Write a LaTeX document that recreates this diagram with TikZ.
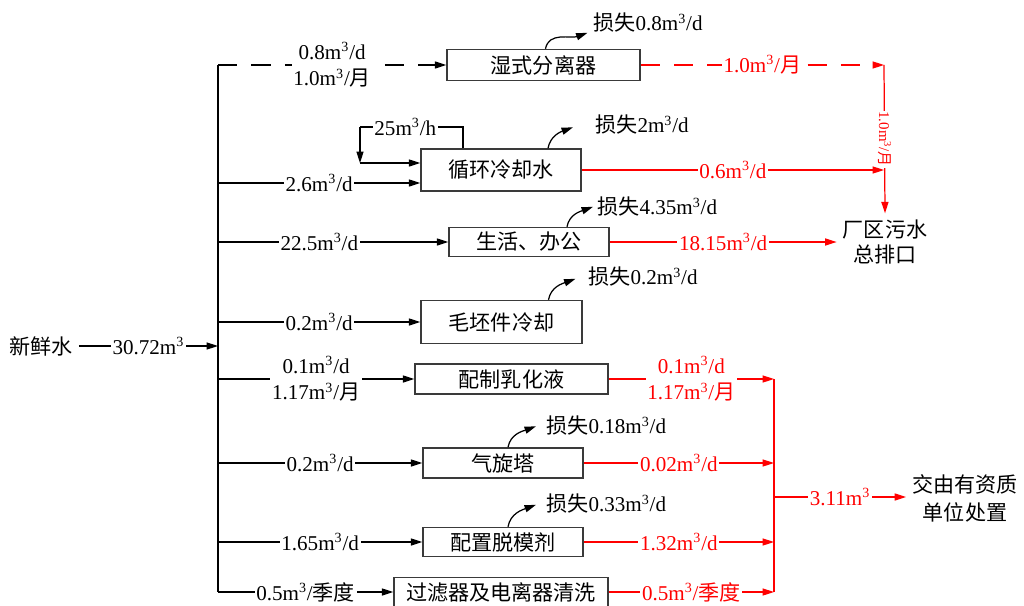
\documentclass[tikz,border=0pt]{standalone}
\usepackage{fontspec}
\setmainfont{Liberation Serif}
\newfontfamily\cjk{Noto Sans CJK SC}
\usepackage{tikz}
\usetikzlibrary{positioning,arrows.meta}
\newcommand{\zh}[1]{{\cjk #1}}
\newcommand{\mth}{m\textsuperscript{3}}
\definecolor{wwred}{HTML}{FF0000}
\definecolor{wwbox}{HTML}{3A3A3A}

\begin{document}
\begin{tikzpicture}[x=0.02cm, y=-0.02cm,
  every node/.style={font=\fontsize{12}{15}\selectfont},
  unit/.style={draw=wwbox, line width=0.8pt, inner sep=0pt,
    font=\cjk\fontsize{12}{14}\selectfont},
  tag/.style={fill=white, inner sep=1pt, align=center},
  redtag/.style={tag, text=wwred},
  flow/.style={line width=0.7pt, -{Triangle[length=6.5pt,width=4pt]}},
  waste/.style={flow, wwred},
  lossarrow/.style={line width=0.7pt, -{Triangle[length=6.5pt,width=4pt]}}]

  \useasboundingbox (0,0) rectangle (1024,605);

  % units
  \node[unit, minimum width=3.86cm, minimum height=0.62cm] (sep)    at (543.5,65)  {湿式分离器};
  \node[unit, minimum width=3.2cm,  minimum height=0.84cm] (cool)   at (501,170)   {循环冷却水};
  \node[unit, minimum width=3.2cm,  minimum height=0.58cm] (office) at (529,242)   {生活、办公};
  \node[unit, minimum width=3.22cm, minimum height=0.86cm] (blank)  at (501.5,322) {毛坯件冷却};
  \node[unit, minimum width=3.86cm, minimum height=0.6cm]  (emul)   at (511.5,379) {配制乳化液};
  \node[unit, minimum width=3.2cm,  minimum height=0.6cm]  (cyc)    at (503,463)   {气旋塔};
  \node[unit, minimum width=3.2cm,  minimum height=0.58cm] (mold)   at (503,542)   {配置脱模剂};
  \node[unit, minimum width=4.28cm, minimum height=0.58cm] (filt)   at (501,592)   {过滤器及电离器清洗};

  % sources and sinks
  \node (fresh) at (41,346) {\zh{新鲜水}};
  \node[align=center, font=\fontsize{12}{14.5}\selectfont] (sewer) at (885,242) {\zh{厂区污水}\\\zh{总排口}};
  \node[align=center, font=\fontsize{12}{16}\selectfont] (qual) at (965,498) {\zh{交由有资质}\\\zh{单位处置}};

  \coordinate (bustop) at (218,65);
  \coordinate (busbot) at (218,592);
  \coordinate (drop) at (884,65);
  \coordinate (coltop) at (774,379);
  \coordinate (colbot) at (774,592);
  \coordinate (colout) at (774,497);
  \coordinate (looptop) at (360,127);
  \coordinate (loopturn) at (360,163);

  % fresh water feed
  \draw[flow] (fresh.east) -- (bustop |- fresh.east) node[tag, midway] {30.72\mth};
  \draw[line width=0.7pt] (bustop) -- (busbot);

  \draw[flow, dash pattern=on 11pt off 8pt] (bustop) -- (sep.west)
    node[tag, midway] {0.8\mth/d\\1.0\mth/\zh{月}};
  \draw[flow] (bustop |- 0,183) -- (cool.west |- 0,183) node[tag, midway] {2.6\mth/d};
  \draw[flow] (bustop |- office.west) -- (office.west) node[tag, pos=.44] {22.5\mth/d};
  \draw[flow] (bustop |- blank.west) -- (blank.west) node[tag, midway] {0.2\mth/d};
  \draw[flow] (bustop |- emul.west) -- (emul.west) node[tag, midway] {0.1\mth/d\\1.17\mth/\zh{月}};
  \draw[flow] (bustop |- cyc.west) -- (cyc.west) node[tag, midway] {0.2\mth/d};
  \draw[flow] (bustop |- mold.west) -- (mold.west) node[tag, midway] {1.65\mth/d};
  \draw[flow] (busbot) -- (filt.west) node[tag, midway] {0.5\mth/\zh{季度}};

  % recirculation
  \draw[line width=0.7pt] ([xshift=-38*0.02cm]cool.north) |- (looptop) node[tag, pos=.78] {25\mth/h};
  \draw[flow] (looptop) -- (loopturn);
  \draw[flow] (loopturn) -- (cool.west |- loopturn);

  % losses
  \foreach \src/\dx/\ex/\ey/\lx/\ly/\amt in {
    sep/2/42/-16/593/23/0.8,
    cool/47/25/-21/595/125/2,
    office/38/26/-20/597/207/4.35,
    blank/47/27/-21/588/277/0.2,
    cyc/5/28/-21/546/426/0.18,
    mold/5/28/-22/546/504/0.33}
  {
    \draw[lossarrow] ([xshift=\dx*0.02cm]\src.north) to[out=80, in=200] ++(\ex,\ey) coordinate (\src-gone);
    \node[anchor=west, inner sep=0pt] (\src-loss) at (\lx,\ly) {\zh{损失}\amt\mth/d};
  }

  % waste water to plant outlet
  \draw[waste, dash pattern=on 11pt off 8pt] (sep.east) -- (drop)
    node[redtag, midway] {1.0\mth/\zh{月}};
  \draw[waste] (drop) -- (sewer.north)
    node[redtag, midway, rotate=-90, inner sep=0.5pt, font=\fontsize{8.5}{10}\selectfont] {1.0\mth/\zh{月}};
  \draw[waste] (cool.east) -- (drop |- cool.east) node[redtag, midway] {0.6\mth/d};
  \draw[waste] (office.east) -- (sewer.west |- office.east) node[redtag, midway] {18.15\mth/d};

  % waste liquid to licensed disposal
  \draw[wwred, line width=0.7pt] (coltop) -- (colbot);
  \draw[waste] (emul.east) -- (coltop) node[redtag, midway] {0.1\mth/d\\1.17\mth/\zh{月}};
  \draw[waste] (cyc.east) -- (coltop |- cyc.east) node[redtag, midway] {0.02\mth/d};
  \draw[waste] (mold.east) -- (coltop |- mold.east) node[redtag, midway] {1.32\mth/d};
  \draw[waste] (filt.east) -- (colbot) node[redtag, midway] {0.5\mth/\zh{季度}};
  \draw[waste] (colout) -- (qual.west |- colout) node[redtag, midway] {3.11\mth};

\end{tikzpicture}
\end{document}
